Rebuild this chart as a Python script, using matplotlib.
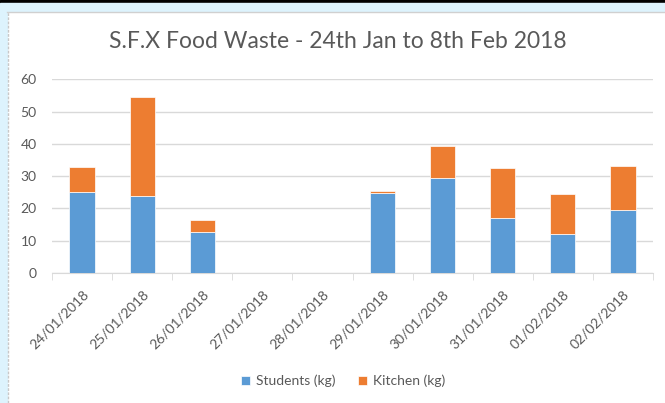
import numpy as np
import matplotlib.pyplot as plt
from matplotlib.patches import Rectangle
from matplotlib.lines import Line2D

dates = ['24/01/2018', '25/01/2018', '26/01/2018', '27/01/2018', '28/01/2018',
         '29/01/2018', '30/01/2018', '31/01/2018', '01/02/2018', '02/02/2018']
students = [25.0, 23.8, 12.7, 0, 0, 24.8, 29.4, 16.9, 12.2, 19.5]
kitchen = [7.8, 30.8, 3.7, 0, 0, 0.5, 9.8, 15.5, 12.4, 13.6]

blue = '#5B9BD5'
orange = '#ED7D31'
grey = '#595959'

plt.rcParams['font.family'] = ['Lato', 'DejaVu Sans']

fig = plt.figure(figsize=(6.65, 4.03), dpi=100)

# window-ish frame around the chart
fig.patches.append(Rectangle((0, 1 - 3/403), 1, 3/403, transform=fig.transFigure,
                             color='black', zorder=0))
fig.patches.append(Rectangle((0, 1 - 11/403), 1, 8/403, transform=fig.transFigure,
                             color='#DDF3FD', zorder=0))
fig.patches.append(Rectangle((0, 0), 7/665, 1 - 11/403, transform=fig.transFigure,
                             color='#DDF3FD', zorder=0))
fig.lines.append(Line2D([7/665, 1], [1 - 11.5/403, 1 - 11.5/403], transform=fig.transFigure,
                        color='#D0D0D0', lw=1))
fig.lines.append(Line2D([7.5/665, 7.5/665], [0, 1 - 11.5/403], transform=fig.transFigure,
                        color='#C8C8C8', lw=1, ls=(0, (2, 1))))

ax = fig.add_axes([52/665, 1 - 273/403, 601/665, (273 - 79.3)/403])
x = np.arange(len(dates))
ax.bar(x, students, width=0.42, color=blue, edgecolor='white', linewidth=0.5,
       label='Students (kg)', zorder=3)
ax.bar(x, kitchen, width=0.42, bottom=students, color=orange, edgecolor='white',
       linewidth=0.5, label='Kitchen (kg)', zorder=3)

ax.set_xlim(-0.5, len(dates) - 0.5)
ax.set_ylim(0, 60)
ax.set_yticks(range(0, 61, 10))
ax.yaxis.grid(True, color='#D9D9D9', linewidth=1)
ax.set_axisbelow(True)
for s in ['top', 'right', 'left']:
    ax.spines[s].set_visible(False)
ax.spines['bottom'].set_color('#D9D9D9')
ax.tick_params(axis='y', length=0, labelsize=10, labelcolor=grey, pad=11)

ax.set_xticks(x)
ax.set_xticklabels(dates, rotation=45, ha='right', rotation_mode='anchor',
                   fontsize=10, color=grey)
ax.tick_params(axis='x', which='major', length=0, pad=11)
ax.set_xticks(np.arange(-0.5, len(dates), 1), minor=True)
ax.tick_params(axis='x', which='minor', length=5, color='#D9D9D9')

fig.text(338/665, 1 - 42/403, 'S.F.X Food Waste - 24th Jan to 8th Feb 2018',
         ha='center', va='center', fontsize=16.5, color=grey)

fig.legend(loc='center', bbox_to_anchor=(343/665, 1 - 381/403), ncol=2, frameon=False,
           fontsize=10, labelcolor=grey, handlelength=0.7, handleheight=0.7,
           handletextpad=0.4, columnspacing=1.6)

fig.savefig('out.png', dpi=100, facecolor='white')
